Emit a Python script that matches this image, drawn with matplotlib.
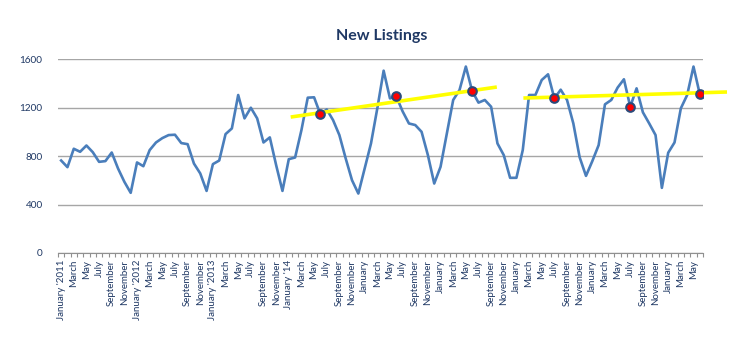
import numpy as np
import matplotlib

matplotlib.use("Agg")
import matplotlib.pyplot as plt

# monthly new listings, January 2011 .. June 2019
listings = [
    764, 709, 861, 836, 888, 833, 753, 759, 830, 698, 588, 497,
    748, 717, 850, 913, 949, 974, 977, 908, 899, 739, 657, 513,
    734, 764, 982, 1029, 1305, 1112, 1200, 1112, 913, 955, 726, 513,
    775, 789, 1015, 1283, 1286, 1145, 1186, 1098, 974, 781, 601, 491,
    698, 905, 1195, 1506, 1277, 1294, 1170, 1070, 1057, 1001, 808, 574,
    712, 988, 1264, 1346, 1540, 1338, 1242, 1264, 1208, 905, 808, 621,
    621, 850, 1305, 1305, 1429, 1476, 1277, 1349, 1264, 1070, 790, 637,
    759, 891, 1228, 1264, 1366, 1435, 1208, 1360, 1162, 1070, 974, 538,
    828, 913, 1195, 1305, 1540, 1311,
]
month_names = ["January", "February", "March", "April", "May", "June",
               "July", "August", "September", "October", "November",
               "December"]
january_labels = ["January '2011", "January '2012", "January '2013",
                  "January '14", "January", "January", "January", "January",
                  "January"]

# highlighted months (index into listings)
marked = [41, 53, 65, 78, 90, 101]

# two trend segments: month position and value at each end
trend_a_x = [36.3, 68.9]
trend_a_y = [1123, 1371]
trend_b_x = [73.1, 105.3]
trend_b_y = [1280, 1330]

NAVY = "#1F3864"
plt.rcParams["font.family"] = ["Lato", "DejaVu Sans"]

x = np.arange(len(listings))
labels = []
for i in x:
    m = i % 12
    labels.append(january_labels[i // 12] if m == 0 else month_names[m])

fig = plt.figure(figsize=(7.5, 3.53), dpi=100)
ax = fig.add_axes([0.0773, 0.2833, 0.86, 0.5487])

ax.plot(x, listings, color="#4A7EBB", lw=1.9, zorder=3)
ax.plot(trend_a_x, trend_a_y, color="#FFFF00", lw=2.6, zorder=4,
        solid_capstyle="butt", clip_on=False)
ax.plot(trend_b_x, trend_b_y, color="#FFFF00", lw=2.6, zorder=4,
        solid_capstyle="butt", clip_on=False)
ax.plot(marked, [listings[i] for i in marked], ls="none", marker="o",
        ms=6.2, mfc="#FF0000", mec="#2B4A7A", mew=1.5, zorder=5)

ax.set_xlim(-0.5, len(listings) - 0.5)
ax.set_ylim(0, 1600)
ax.set_yticks([0, 400, 800, 1200, 1600])
ax.yaxis.grid(True, color="#A6A6A6", lw=1.0)
ax.set_axisbelow(True)

ax.set_xticks(x[::2])
ax.set_xticklabels(labels[::2], rotation=90, fontsize=7, color=NAVY)
ax.set_xticks(np.arange(-0.5, len(listings)), minor=True)
ax.tick_params(axis="x", which="major", length=0, pad=5)
ax.tick_params(axis="x", which="minor", length=3, color="#909090",
               width=0.8)
ax.tick_params(axis="y", length=0, pad=11, labelsize=7.2, labelcolor=NAVY)

for side in ("left", "top", "right"):
    ax.spines[side].set_visible(False)
ax.spines["bottom"].set_color("#909090")

fig.text(381.5 / 750, 1 - 35.7 / 353, "New Listings", ha="center",
         va="center", fontsize=11.5, fontweight="bold", color=NAVY)

fig.savefig("out.png", dpi=100)
